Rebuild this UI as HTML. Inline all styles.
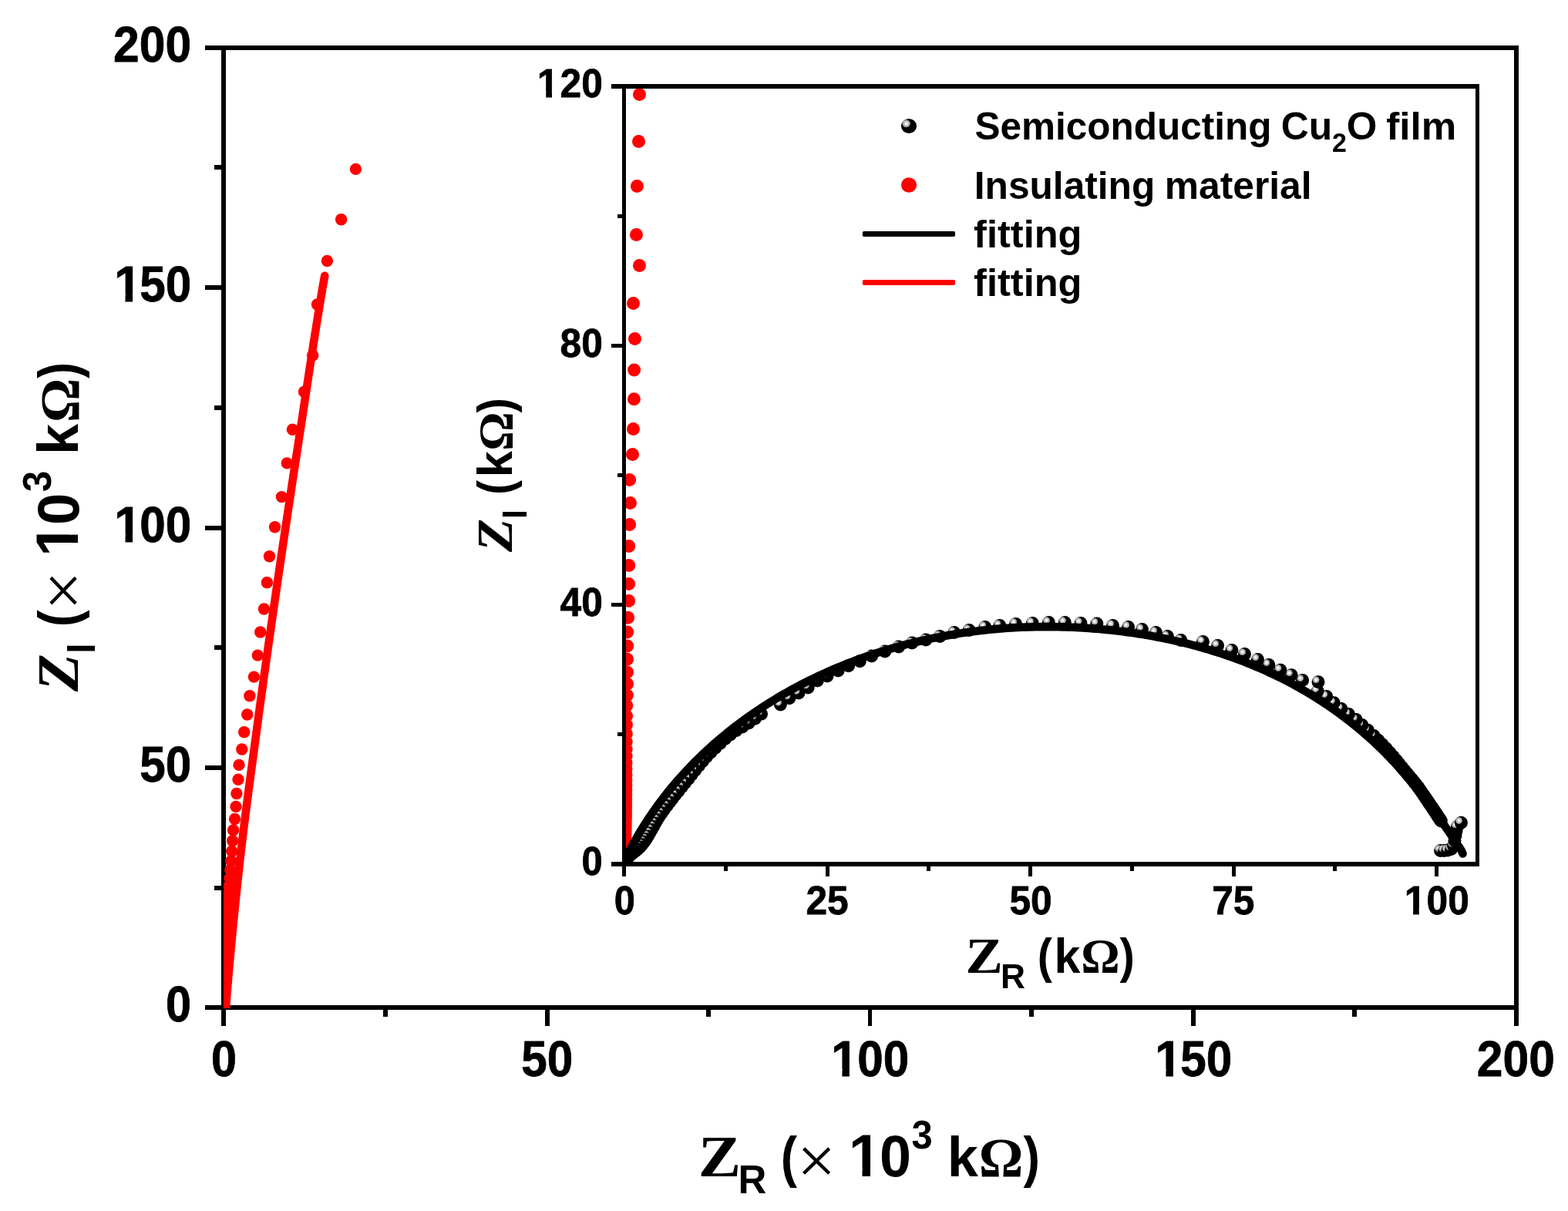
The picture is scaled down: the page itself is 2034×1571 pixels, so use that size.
<!DOCTYPE html>
<html lang="en"><head><meta charset="utf-8"><title>Nyquist plot</title>
<style>html,body{margin:0;padding:0;background:#fff;overflow:hidden}svg{display:block}</style></head>
<body>
<svg width="2034" height="1571" viewBox="0 0 2034 1571">
<defs>
<radialGradient id="sph" cx="0.33" cy="0.335" r="0.275"><stop offset="0" stop-color="#fff"/><stop offset="0.22" stop-color="#fff"/><stop offset="0.42" stop-color="#cfcfcf"/><stop offset="0.72" stop-color="#adadad"/><stop offset="0.9" stop-color="#7a7a7a"/><stop offset="1" stop-color="#000"/></radialGradient>
<clipPath id="cm"><rect x="290" y="62" width="1677" height="1245.6"/></clipPath>
<clipPath id="ci"><rect x="809.5" y="112" width="1107" height="1009"/></clipPath>
</defs>
<rect x="0" y="0" width="2034" height="1571" fill="#fff"/>
<g shape-rendering="crispEdges">
<rect x="287" y="59" width="6" height="1251" fill="#000"/>
<rect x="1964" y="59" width="6" height="1251" fill="#000"/>
<rect x="287" y="59" width="1683" height="6" fill="#000"/>
<rect x="287" y="1304" width="1683" height="6" fill="#000"/>
<rect x="266" y="1304" width="24" height="6" fill="#000"/>
<rect x="278" y="1149" width="12" height="6" fill="#000"/>
<rect x="266" y="993" width="24" height="6" fill="#000"/>
<rect x="278" y="837" width="12" height="6" fill="#000"/>
<rect x="266" y="682" width="24" height="6" fill="#000"/>
<rect x="278" y="526" width="12" height="6" fill="#000"/>
<rect x="266" y="370" width="24" height="6" fill="#000"/>
<rect x="278" y="214" width="12" height="6" fill="#000"/>
<rect x="266" y="59" width="24" height="6" fill="#000"/>
<rect x="287" y="1307" width="6" height="24" fill="#000"/>
<rect x="497" y="1307" width="6" height="12" fill="#000"/>
<rect x="707" y="1307" width="6" height="24" fill="#000"/>
<rect x="916" y="1307" width="6" height="12" fill="#000"/>
<rect x="1126" y="1307" width="5" height="24" fill="#000"/>
<rect x="1335" y="1307" width="6" height="12" fill="#000"/>
<rect x="1545" y="1307" width="6" height="24" fill="#000"/>
<rect x="1754" y="1307" width="6" height="12" fill="#000"/>
<rect x="1964" y="1307" width="6" height="24" fill="#000"/>
</g>
<g clip-path="url(#cm)" fill="#f00">
<circle cx="461.4" cy="219.4" r="7.7"/>
<circle cx="442.6" cy="284.8" r="7.7"/>
<circle cx="424.4" cy="338.5" r="7.7"/>
<circle cx="411.5" cy="395" r="7.7"/>
<circle cx="405.7" cy="461" r="7.7"/>
<circle cx="394.5" cy="508.3" r="7.7"/>
<circle cx="379.4" cy="557.3" r="7.7"/>
<circle cx="372.3" cy="600.9" r="7.7"/>
<circle cx="365.4" cy="644.6" r="7.7"/>
<circle cx="356.5" cy="683.7" r="7.7"/>
<circle cx="349.5" cy="721.7" r="7.7"/>
<circle cx="346.4" cy="755.7" r="7.7"/>
<circle cx="342.5" cy="790" r="7.7"/>
<circle cx="337.7" cy="820" r="7.7"/>
<circle cx="334.3" cy="850.1" r="7.7"/>
<circle cx="329.4" cy="878.1" r="7.7"/>
<circle cx="323.9" cy="902.8" r="7.7"/>
<circle cx="320.7" cy="927" r="7.7"/>
<circle cx="316.7" cy="949.8" r="7.7"/>
<circle cx="313.8" cy="972" r="7.7"/>
<circle cx="310" cy="992.4" r="7.7"/>
<circle cx="309" cy="1011.2" r="7.7"/>
<circle cx="306.9" cy="1029.5" r="7.7"/>
<circle cx="306" cy="1046.4" r="7.7"/>
<circle cx="304.5" cy="1062.5" r="7.7"/>
<circle cx="302.6" cy="1077" r="7.7"/>
<circle cx="301.7" cy="1090.8" r="7.7"/>
<circle cx="300.7" cy="1104.3" r="7.7"/>
<circle cx="299.7" cy="1117" r="7.7"/>
<circle cx="298.82" cy="1128.56" r="7.7"/>
<circle cx="297.99" cy="1139.29" r="7.7"/>
<circle cx="297.23" cy="1149.38" r="7.7"/>
<circle cx="296.55" cy="1158.86" r="7.7"/>
<circle cx="295.93" cy="1167.77" r="7.7"/>
<circle cx="295.37" cy="1176.15" r="7.7"/>
<circle cx="294.86" cy="1184.02" r="7.7"/>
<circle cx="294.4" cy="1191.41" r="7.7"/>
<circle cx="293.99" cy="1198.37" r="7.7"/>
<circle cx="293.61" cy="1204.9" r="7.7"/>
<circle cx="293.27" cy="1211.04" r="7.7"/>
<circle cx="292.96" cy="1216.81" r="7.7"/>
<circle cx="292.68" cy="1222.24" r="7.7"/>
<circle cx="292.43" cy="1227.34" r="7.7"/>
<circle cx="292.2" cy="1232.13" r="7.7"/>
<circle cx="291.99" cy="1236.63" r="7.7"/>
<circle cx="291.8" cy="1240.86" r="7.7"/>
<circle cx="291.63" cy="1244.84" r="7.7"/>
<circle cx="291.48" cy="1248.58" r="7.7"/>
<circle cx="291.34" cy="1252.1" r="7.7"/>
<circle cx="291.21" cy="1255.4" r="7.7"/>
<circle cx="291.1" cy="1258.5" r="7.7"/>
<circle cx="290.99" cy="1261.42" r="7.7"/>
<circle cx="290.9" cy="1264.16" r="7.7"/>
<circle cx="290.81" cy="1266.74" r="7.7"/>
<circle cx="290.74" cy="1269.16" r="7.7"/>
<circle cx="290.67" cy="1271.44" r="7.7"/>
<circle cx="290.6" cy="1273.57" r="7.7"/>
<circle cx="290.55" cy="1275.59" r="7.7"/>
<circle cx="290.5" cy="1277.47" r="7.7"/>
<circle cx="290.45" cy="1279.25" r="7.7"/>
<circle cx="290.41" cy="1280.92" r="7.7"/>
<circle cx="290.37" cy="1282.49" r="7.7"/>
<circle cx="290.33" cy="1283.96" r="7.7"/>
<circle cx="290.3" cy="1285.35" r="7.7"/>
<circle cx="290.27" cy="1286.65" r="7.7"/>
<circle cx="290.25" cy="1287.88" r="7.7"/>
<circle cx="290.22" cy="1289.03" r="7.7"/>
<circle cx="290.2" cy="1290.11" r="7.7"/>
<circle cx="290.18" cy="1291.12" r="7.7"/>
<circle cx="290.17" cy="1292.08" r="7.7"/>
<circle cx="290.15" cy="1292.98" r="7.7"/>
<circle cx="290.14" cy="1293.82" r="7.7"/>
<circle cx="290.12" cy="1294.61" r="7.7"/>
<circle cx="290.11" cy="1295.36" r="7.7"/>
<circle cx="290.1" cy="1296.06" r="7.7"/>
<circle cx="290.09" cy="1296.72" r="7.7"/>
<circle cx="290.08" cy="1297.33" r="7.7"/>
<circle cx="290.08" cy="1297.92" r="7.7"/>
<circle cx="290.07" cy="1298.46" r="7.7"/>
<circle cx="290.06" cy="1298.98" r="7.7"/>
<circle cx="290.06" cy="1299.46" r="7.7"/>
<circle cx="290.05" cy="1299.91" r="7.7"/>
<circle cx="290.05" cy="1300.34" r="7.7"/>
<circle cx="290.04" cy="1300.74" r="7.7"/>
<circle cx="290.04" cy="1301.12" r="7.7"/>
<circle cx="290.03" cy="1301.47" r="7.7"/>
<circle cx="290.03" cy="1301.8" r="7.7"/>
<circle cx="290.03" cy="1302.11" r="7.7"/>
<circle cx="290.03" cy="1302.41" r="7.7"/>
<circle cx="290.02" cy="1302.68" r="7.7"/>
<circle cx="290.02" cy="1302.94" r="7.7"/>
<circle cx="290.02" cy="1303.19" r="7.7"/>
<circle cx="290.02" cy="1303.42" r="7.7"/>
<circle cx="290.02" cy="1303.63" r="7.7"/>
<circle cx="290.01" cy="1303.84" r="7.7"/>
<circle cx="290.01" cy="1304.03" r="7.7"/>
<circle cx="290.01" cy="1304.2" r="7.7"/>
<circle cx="290.01" cy="1304.37" r="7.7"/>
<circle cx="290.01" cy="1304.53" r="7.7"/>
<circle cx="290.01" cy="1304.68" r="7.7"/>
<circle cx="290.01" cy="1304.82" r="7.7"/>
<circle cx="290.01" cy="1304.95" r="7.7"/>
<circle cx="290.01" cy="1305.07" r="7.7"/>
<circle cx="290.01" cy="1305.19" r="7.7"/>
<circle cx="290.01" cy="1305.3" r="7.7"/>
<circle cx="290" cy="1305.4" r="7.7"/>
<circle cx="290" cy="1305.5" r="7.7"/>
<circle cx="290" cy="1305.59" r="7.7"/>
<circle cx="290" cy="1305.67" r="7.7"/>
<circle cx="290" cy="1305.75" r="7.7"/>
<circle cx="290" cy="1305.83" r="7.7"/>
<circle cx="290" cy="1305.9" r="7.7"/>
<circle cx="290" cy="1305.96" r="7.7"/>
<circle cx="290" cy="1306.03" r="7.7"/>
<circle cx="290" cy="1306.08" r="7.7"/>
<circle cx="290" cy="1306.14" r="7.7"/>
<circle cx="290" cy="1306.19" r="7.7"/>
<circle cx="290" cy="1306.24" r="7.7"/>
<circle cx="290" cy="1306.29" r="7.7"/>
<circle cx="290" cy="1306.33" r="7.7"/>
<circle cx="290" cy="1306.37" r="7.7"/>
<circle cx="290" cy="1306.41" r="7.7"/>
<circle cx="290" cy="1306.44" r="7.7"/>
<circle cx="290" cy="1306.48" r="7.7"/>
<circle cx="290" cy="1306.51" r="7.7"/>
<circle cx="290" cy="1306.54" r="7.7"/>
<circle cx="290" cy="1306.57" r="7.7"/>
<circle cx="290" cy="1306.59" r="7.7"/>
<circle cx="290" cy="1306.62" r="7.7"/>
<circle cx="290" cy="1306.64" r="7.7"/>
<circle cx="290" cy="1306.66" r="7.7"/>
<circle cx="290" cy="1306.68" r="7.7"/>
<circle cx="290" cy="1306.7" r="7.7"/>
<path d="M421.2,357.8 L418.32,373.97 L415.61,390.15 L412.95,406.32 L410.34,422.49 L407.79,438.66 L405.26,454.84 L402.77,471.01 L400.31,487.18 L397.85,503.36 L395.4,519.53 L392.96,535.7 L390.5,551.87 L388.03,568.05 L385.56,584.22 L383.09,600.39 L380.63,616.57 L378.18,632.74 L375.73,648.91 L373.3,665.08 L370.87,681.26 L368.46,697.43 L366.06,713.6 L363.68,729.78 L361.32,745.95 L358.97,762.12 L356.63,778.29 L354.29,794.47 L351.97,810.64 L349.66,826.81 L347.36,842.99 L345.08,859.16 L342.81,875.33 L340.56,891.51 L338.33,907.68 L336.12,923.85 L333.94,940.02 L331.77,956.2 L329.6,972.37 L327.43,988.54 L325.25,1004.72 L323.1,1020.89 L320.97,1037.06 L318.87,1053.23 L316.82,1069.41 L314.82,1085.58 L312.89,1101.75 L311.03,1117.93 L309.26,1134.1 L307.53,1150.27 L305.84,1166.44 L304.19,1182.62 L302.58,1198.79 L301.02,1214.96 L299.49,1231.14 L298.02,1247.31 L296.59,1263.48 L295.21,1279.65 L293.89,1295.83 L292.55,1312" fill="none" stroke="#f00" stroke-width="10.6" stroke-linecap="round" stroke-linejoin="round"/>
</g>
<g clip-path="url(#ci)">
<g fill="#f00">
<circle cx="829.5" cy="122.5" r="8.5"/>
<circle cx="828.5" cy="183.5" r="8.5"/>
<circle cx="826.4" cy="241.4" r="8.5"/>
<circle cx="825.5" cy="304.4" r="8.5"/>
<circle cx="829.5" cy="344.4" r="8.5"/>
<circle cx="821.5" cy="393.4" r="8.5"/>
<circle cx="823.5" cy="439.4" r="8.5"/>
<circle cx="822.6" cy="480.1" r="8.5"/>
<circle cx="822.4" cy="517.7" r="8.5"/>
<circle cx="821.5" cy="556.4" r="8.5"/>
<circle cx="820.5" cy="589.4" r="8.5"/>
<circle cx="816.6" cy="622.4" r="8.5"/>
<circle cx="817.5" cy="652.5" r="8.5"/>
<circle cx="816.6" cy="680.6" r="8.5"/>
<circle cx="815.7" cy="708.4" r="8.5"/>
<circle cx="815.7" cy="733.4" r="8.5"/>
<circle cx="815.6" cy="757.4" r="8.5"/>
<circle cx="815.6" cy="779.6" r="8.5"/>
<circle cx="814.6" cy="801.3" r="8.5"/>
<circle cx="813.7" cy="820" r="8.5"/>
<circle cx="813.7" cy="838" r="8.5"/>
<circle cx="813.5" cy="855.2" r="8.5"/>
<circle cx="813.5" cy="871.9" r="8.5"/>
<circle cx="813.5" cy="887.2" r="8.5"/>
<circle cx="813.4" cy="901.9" r="8.5"/>
<circle cx="812.7" cy="915.3" r="8.5"/>
<circle cx="812.6" cy="928.7" r="8.5"/>
<circle cx="812.5" cy="940.2" r="8.5"/>
<circle cx="812.4" cy="951.7" r="8.5"/>
<circle cx="812.24" cy="962.31" r="8.5"/>
<circle cx="812.18" cy="972" r="8.5"/>
<circle cx="812.12" cy="981.09" r="8.5"/>
<circle cx="812.06" cy="989.63" r="8.5"/>
<circle cx="812" cy="997.65" r="8.5"/>
<circle cx="811.94" cy="1005.18" r="8.5"/>
<circle cx="811.88" cy="1012.25" r="8.5"/>
<circle cx="811.82" cy="1018.88" r="8.5"/>
<circle cx="811.76" cy="1025.12" r="8.5"/>
<circle cx="811.7" cy="1030.97" r="8.5"/>
<circle cx="811.64" cy="1036.46" r="8.5"/>
<circle cx="811.58" cy="1041.62" r="8.5"/>
<circle cx="811.52" cy="1046.47" r="8.5"/>
<circle cx="811.46" cy="1051.02" r="8.5"/>
<circle cx="811.4" cy="1055.29" r="8.5"/>
<circle cx="811.34" cy="1059.3" r="8.5"/>
<circle cx="811.28" cy="1063.06" r="8.5"/>
<circle cx="811.22" cy="1066.6" r="8.5"/>
<circle cx="811.16" cy="1069.92" r="8.5"/>
<circle cx="811.1" cy="1073.04" r="8.5"/>
<circle cx="811.04" cy="1075.97" r="8.5"/>
<circle cx="810.98" cy="1078.71" r="8.5"/>
<circle cx="810.92" cy="1081.29" r="8.5"/>
<circle cx="810.86" cy="1083.72" r="8.5"/>
<circle cx="810.8" cy="1085.99" r="8.5"/>
<circle cx="810.74" cy="1088.13" r="8.5"/>
<circle cx="810.68" cy="1090.14" r="8.5"/>
<circle cx="810.62" cy="1092.02" r="8.5"/>
<circle cx="810.56" cy="1093.79" r="8.5"/>
<circle cx="810.5" cy="1095.45" r="8.5"/>
<circle cx="810.44" cy="1097.01" r="8.5"/>
<circle cx="810.38" cy="1098.47" r="8.5"/>
<circle cx="810.32" cy="1099.85" r="8.5"/>
<circle cx="810.26" cy="1101.14" r="8.5"/>
<circle cx="810.2" cy="1102.35" r="8.5"/>
<circle cx="810.14" cy="1103.49" r="8.5"/>
<circle cx="810.08" cy="1104.56" r="8.5"/>
<circle cx="810.02" cy="1105.56" r="8.5"/>
<circle cx="809.96" cy="1106.5" r="8.5"/>
<circle cx="809.9" cy="1107.39" r="8.5"/>
<circle cx="809.84" cy="1108.22" r="8.5"/>
<circle cx="809.78" cy="1109" r="8.5"/>
<circle cx="809.72" cy="1109.73" r="8.5"/>
<circle cx="809.66" cy="1110.42" r="8.5"/>
<circle cx="809.6" cy="1111.07" r="8.5"/>
<circle cx="809.6" cy="1111.67" r="8.5"/>
<circle cx="809.6" cy="1112.24" r="8.5"/>
<circle cx="809.6" cy="1112.78" r="8.5"/>
<circle cx="809.6" cy="1113.28" r="8.5"/>
<circle cx="809.6" cy="1113.75" r="8.5"/>
<circle cx="809.6" cy="1114.19" r="8.5"/>
<circle cx="809.6" cy="1114.61" r="8.5"/>
<circle cx="809.6" cy="1115" r="8.5"/>
<circle cx="809.6" cy="1115.36" r="8.5"/>
<circle cx="809.6" cy="1115.71" r="8.5"/>
<circle cx="809.6" cy="1116.03" r="8.5"/>
<circle cx="809.6" cy="1116.33" r="8.5"/>
<circle cx="809.6" cy="1116.62" r="8.5"/>
<circle cx="809.6" cy="1116.89" r="8.5"/>
<circle cx="809.6" cy="1117.14" r="8.5"/>
<circle cx="809.6" cy="1117.37" r="8.5"/>
<circle cx="809.6" cy="1117.59" r="8.5"/>
<circle cx="809.6" cy="1117.8" r="8.5"/>
<circle cx="809.6" cy="1118" r="8.5"/>
<circle cx="809.6" cy="1118.18" r="8.5"/>
<circle cx="809.6" cy="1118.35" r="8.5"/>
<circle cx="809.6" cy="1118.51" r="8.5"/>
<circle cx="809.6" cy="1118.67" r="8.5"/>
<circle cx="809.6" cy="1118.81" r="8.5"/>
<circle cx="809.6" cy="1118.94" r="8.5"/>
<circle cx="809.6" cy="1119.07" r="8.5"/>
<circle cx="809.6" cy="1119.19" r="8.5"/>
<circle cx="809.6" cy="1119.3" r="8.5"/>
<circle cx="809.6" cy="1119.4" r="8.5"/>
<circle cx="809.6" cy="1119.5" r="8.5"/>
<circle cx="809.6" cy="1119.59" r="8.5"/>
<circle cx="809.6" cy="1119.68" r="8.5"/>
<circle cx="809.6" cy="1119.76" r="8.5"/>
<circle cx="809.6" cy="1119.83" r="8.5"/>
<circle cx="809.6" cy="1119.9" r="8.5"/>
<circle cx="809.6" cy="1119.97" r="8.5"/>
<circle cx="809.6" cy="1120.03" r="8.5"/>
<circle cx="809.6" cy="1120.09" r="8.5"/>
<circle cx="809.6" cy="1120.15" r="8.5"/>
<circle cx="809.6" cy="1120.2" r="8.5"/>
<circle cx="809.6" cy="1120.25" r="8.5"/>
<circle cx="809.6" cy="1120.29" r="8.5"/>
<circle cx="809.6" cy="1120.34" r="8.5"/>
<circle cx="809.6" cy="1120.38" r="8.5"/>
<circle cx="809.6" cy="1120.42" r="8.5"/>
<circle cx="809.6" cy="1120.45" r="8.5"/>
<circle cx="809.6" cy="1120.49" r="8.5"/>
<circle cx="809.6" cy="1120.52" r="8.5"/>
<circle cx="809.6" cy="1120.55" r="8.5"/>
<circle cx="809.6" cy="1120.57" r="8.5"/>
<circle cx="809.6" cy="1120.6" r="8.5"/>
</g>
<g fill="url(#sph)">
<circle cx="1868.6" cy="1103.4" r="8.5"/>
<circle cx="1873.5" cy="1103.4" r="8.5"/>
<circle cx="1878" cy="1103" r="8.5"/>
<circle cx="1882.5" cy="1101.5" r="8.5"/>
<circle cx="1885.5" cy="1097" r="8.5"/>
<circle cx="1887" cy="1090.5" r="8.5"/>
<circle cx="1888" cy="1084" r="8.5"/>
<circle cx="1889" cy="1078" r="8.5"/>
<circle cx="1890.3" cy="1072.5" r="8.5"/>
<circle cx="1895.4" cy="1067.3" r="8.5"/>
<circle cx="1869.34" cy="1064.99" r="8.5"/>
<circle cx="1868.44" cy="1063.62" r="8.5"/>
<circle cx="1867.5" cy="1062.2" r="8.5"/>
<circle cx="1866.52" cy="1060.71" r="8.5"/>
<circle cx="1865.5" cy="1059.17" r="8.5"/>
<circle cx="1864.4" cy="1057.51" r="8.5"/>
<circle cx="1863.26" cy="1055.79" r="8.5"/>
<circle cx="1862.07" cy="1054.02" r="8.5"/>
<circle cx="1860.81" cy="1052.12" r="8.5"/>
<circle cx="1859.5" cy="1050.18" r="8.5"/>
<circle cx="1858.11" cy="1048.11" r="8.5"/>
<circle cx="1856.63" cy="1045.93" r="8.5"/>
<circle cx="1855.11" cy="1043.69" r="8.5"/>
<circle cx="1853.52" cy="1041.33" r="8.5"/>
<circle cx="1851.85" cy="1038.85" r="8.5"/>
<circle cx="1850.11" cy="1036.25" r="8.5"/>
<circle cx="1848.23" cy="1033.48" r="8.5"/>
<circle cx="1846.31" cy="1030.66" r="8.5"/>
<circle cx="1844.24" cy="1027.67" r="8.5"/>
<circle cx="1842.06" cy="1024.6" r="8.5"/>
<circle cx="1839.73" cy="1021.38" r="8.5"/>
<circle cx="1837.25" cy="1018.09" r="8.5"/>
<circle cx="1834.54" cy="1014.62" r="8.5"/>
<circle cx="1831.68" cy="1011.07" r="8.5"/>
<circle cx="1828.65" cy="1007.39" r="8.5"/>
<circle cx="1825.46" cy="1003.56" r="8.5"/>
<circle cx="1822.08" cy="999.52" r="8.5"/>
<circle cx="1818.6" cy="995.29" r="8.5"/>
<circle cx="1814.96" cy="990.82" r="8.5"/>
<circle cx="1811.14" cy="986.12" r="8.5"/>
<circle cx="1807.12" cy="981.23" r="8.5"/>
<circle cx="1802.78" cy="976.14" r="8.5"/>
<circle cx="1798.19" cy="971.01" r="8.5"/>
<circle cx="1793.18" cy="965.67" r="8.5"/>
<circle cx="1787.85" cy="960.23" r="8.5"/>
<circle cx="1782.1" cy="954.6" r="8.5"/>
<circle cx="1774.4" cy="947.3" r="8.5"/>
<circle cx="1766.8" cy="940.5" r="8.5"/>
<circle cx="1759.1" cy="933.5" r="8.5"/>
<circle cx="1749.5" cy="926.4" r="8.5"/>
<circle cx="1739.9" cy="919.4" r="8.5"/>
<circle cx="1730.3" cy="911.7" r="8.5"/>
<circle cx="1720.7" cy="903.4" r="8.5"/>
<circle cx="1709.2" cy="896.4" r="8.5"/>
<circle cx="1710" cy="884.7" r="8.5"/>
<circle cx="1689.6" cy="882.5" r="8.5"/>
<circle cx="1675.2" cy="875.7" r="8.5"/>
<circle cx="1660.9" cy="869.3" r="8.5"/>
<circle cx="1645.8" cy="862.5" r="8.5"/>
<circle cx="1631.5" cy="855.5" r="8.5"/>
<circle cx="1614.5" cy="848.6" r="8.5"/>
<circle cx="1597.9" cy="843.5" r="8.5"/>
<circle cx="1579.6" cy="837.6" r="8.5"/>
<circle cx="1560.4" cy="832.6" r="8.5"/>
<circle cx="1531.8" cy="830.6" r="8.5"/>
<circle cx="1514.5" cy="825.6" r="8.5"/>
<circle cx="1499.4" cy="820.5" r="8.5"/>
<circle cx="1481.5" cy="816.6" r="8.5"/>
<circle cx="1463.6" cy="813.4" r="8.5"/>
<circle cx="1443.5" cy="811.6" r="8.5"/>
<circle cx="1422.8" cy="809" r="8.5"/>
<circle cx="1402" cy="808.4" r="8.5"/>
<circle cx="1381.3" cy="807.5" r="8.5"/>
<circle cx="1360.4" cy="807.5" r="8.5"/>
<circle cx="1339.3" cy="808.4" r="8.5"/>
<circle cx="1317.6" cy="809.4" r="8.5"/>
<circle cx="1296.8" cy="811.6" r="8.5"/>
<circle cx="1277.7" cy="813.5" r="8.5"/>
<circle cx="1257.1" cy="817.6" r="8.5"/>
<circle cx="1237.7" cy="820.5" r="8.5"/>
<circle cx="1219.2" cy="825.6" r="8.5"/>
<circle cx="1201" cy="830" r="8.5"/>
<circle cx="1183.1" cy="834.1" r="8.5"/>
<circle cx="1165.8" cy="839" r="8.5"/>
<circle cx="1147.9" cy="845" r="8.5"/>
<circle cx="1130.7" cy="851" r="8.5"/>
<circle cx="1115.3" cy="857.8" r="8.5"/>
<circle cx="1100.6" cy="863.8" r="8.5"/>
<circle cx="1087.2" cy="869.9" r="8.5"/>
<circle cx="1073.1" cy="877" r="8.5"/>
<circle cx="1060.3" cy="883.1" r="8.5"/>
<circle cx="1048.2" cy="891.9" r="8.5"/>
<circle cx="1036" cy="899.1" r="8.5"/>
<circle cx="1023.9" cy="905.7" r="8.5"/>
<circle cx="1012.4" cy="914" r="8.5"/>
<circle cx="987.47" cy="926.29" r="8.5"/>
<circle cx="979.32" cy="932.31" r="8.5"/>
<circle cx="971.19" cy="937.92" r="8.5"/>
<circle cx="962.97" cy="942.89" r="8.5"/>
<circle cx="954.82" cy="947.62" r="8.5"/>
<circle cx="947.4" cy="953.01" r="8.5"/>
<circle cx="940.54" cy="958.6" r="8.5"/>
<circle cx="934" cy="964.4" r="8.5"/>
<circle cx="927.85" cy="970.22" r="8.5"/>
<circle cx="922.08" cy="975.92" r="8.5"/>
<circle cx="916.5" cy="981.76" r="8.5"/>
<circle cx="911.29" cy="987.63" r="8.5"/>
<circle cx="906.4" cy="993.45" r="8.5"/>
<circle cx="901.68" cy="999.28" r="8.5"/>
<circle cx="897.17" cy="1004.95" r="8.5"/>
<circle cx="892.86" cy="1010.42" r="8.5"/>
<circle cx="888.52" cy="1015.85" r="8.5"/>
<circle cx="884.33" cy="1021.04" r="8.5"/>
<circle cx="880.2" cy="1026.12" r="8.5"/>
<circle cx="876.17" cy="1031.11" r="8.5"/>
<circle cx="872.34" cy="1035.91" r="8.5"/>
<circle cx="868.62" cy="1040.64" r="8.5"/>
<circle cx="865.05" cy="1045.3" r="8.5"/>
<circle cx="861.62" cy="1049.89" r="8.5"/>
<circle cx="858.36" cy="1054.43" r="8.5"/>
<circle cx="855.27" cy="1058.92" r="8.5"/>
<circle cx="852.43" cy="1063.48" r="8.5"/>
<circle cx="849.86" cy="1067.92" r="8.5"/>
<circle cx="847.42" cy="1072.31" r="8.5"/>
<circle cx="845.06" cy="1076.58" r="8.5"/>
<circle cx="842.69" cy="1080.83" r="8.5"/>
<circle cx="840.31" cy="1084.88" r="8.5"/>
<circle cx="837.92" cy="1088.71" r="8.5"/>
<circle cx="835.46" cy="1092.3" r="8.5"/>
<circle cx="832.78" cy="1095.82" r="8.5"/>
<circle cx="830.05" cy="1098.93" r="8.5"/>
<circle cx="827.02" cy="1101.68" r="8.5"/>
<circle cx="823.87" cy="1104.2" r="8.5"/>
<circle cx="820.78" cy="1106.63" r="8.5"/>
<circle cx="817.94" cy="1109.09" r="8.5"/>
<circle cx="815.35" cy="1111.76" r="8.5"/>
<circle cx="813" cy="1114.5" r="8.5"/>
</g>
<path d="M809.8,1121 L810.37,1116.72 L812.26,1112.74 L814.19,1108.79 L816.16,1104.86 L818.17,1100.95 L820.22,1097.06 L822.3,1093.2 L824.43,1089.36 L826.6,1085.54 L828.8,1081.75 L831.04,1077.98 L833.32,1074.24 L835.63,1070.51 L837.98,1066.82 L840.37,1063.14 L842.79,1059.49 L845.25,1055.87 L847.74,1052.27 L850.26,1048.69 L852.82,1045.14 L855.42,1041.61 L858.04,1038.1 L860.7,1034.62 L863.4,1031.17 L866.12,1027.74 L868.88,1024.34 L871.66,1020.96 L874.48,1017.61 L877.33,1014.28 L880.21,1010.98 L883.12,1007.7 L886.06,1004.45 L889.03,1001.22 L892.02,998.02 L895.05,994.85 L898.1,991.7 L901.18,988.58 L904.28,985.49 L907.42,982.42 L910.58,979.38 L913.76,976.36 L916.98,973.37 L920.21,970.41 L923.47,967.48 L926.76,964.57 L930.07,961.69 L933.4,958.84 L936.76,956.01 L940.14,953.21 L943.54,950.44 L946.97,947.7 L950.41,944.99 L953.88,942.3 L957.37,939.64 L960.88,937.01 L964.41,934.41 L967.96,931.84 L971.53,929.29 L975.12,926.77 L978.72,924.28 L982.35,921.82 L986,919.39 L989.66,916.99 L993.34,914.61 L997.04,912.26 L1000.76,909.94 L1004.5,907.65 L1008.25,905.38 L1012.02,903.15 L1015.8,900.94 L1019.61,898.76 L1023.42,896.61 L1027.26,894.49 L1031.11,892.39 L1034.98,890.32 L1038.86,888.28 L1042.75,886.27 L1046.67,884.29 L1050.59,882.33 L1054.53,880.4 L1058.49,878.5 L1062.45,876.63 L1066.43,874.78 L1070.43,872.96 L1074.44,871.17 L1078.46,869.41 L1082.49,867.68 L1086.54,865.97 L1090.59,864.29 L1094.66,862.64 L1098.75,861.01 L1102.84,859.42 L1106.94,857.85 L1111.06,856.31 L1115.18,854.79 L1119.32,853.31 L1123.46,851.85 L1127.62,850.42 L1131.78,849.01 L1135.96,847.64 L1140.14,846.29 L1144.34,844.96 L1148.54,843.67 L1152.75,842.4 L1156.97,841.16 L1161.19,839.95 L1165.42,838.76 L1169.67,837.6 L1173.91,836.47 L1178.17,835.37 L1182.43,834.29 L1186.7,833.24 L1190.98,832.22 L1195.26,831.22 L1199.54,830.26 L1203.84,829.31 L1208.13,828.4 L1212.44,827.51 L1216.74,826.65 L1221.05,825.82 L1225.37,825.01 L1229.69,824.23 L1234.01,823.48 L1238.34,822.75 L1242.67,822.06 L1247.01,821.38 L1251.34,820.74 L1255.68,820.12 L1260.02,819.53 L1264.37,818.96 L1268.71,818.42 L1273.06,817.91 L1277.41,817.43 L1281.76,816.97 L1286.11,816.54 L1290.47,816.13 L1294.82,815.75 L1299.18,815.4 L1303.54,815.07 L1307.9,814.77 L1312.26,814.49 L1316.62,814.24 L1320.99,814.02 L1325.35,813.82 L1329.72,813.64 L1334.09,813.49 L1338.46,813.37 L1342.83,813.27 L1347.2,813.2 L1351.57,813.15 L1355.94,813.13 L1360.32,813.13 L1364.69,813.15 L1369.07,813.2 L1373.44,813.28 L1377.82,813.38 L1382.2,813.5 L1386.57,813.65 L1390.95,813.82 L1395.33,814.02 L1399.71,814.23 L1404.09,814.48 L1408.47,814.75 L1412.84,815.04 L1417.22,815.36 L1421.6,815.7 L1425.97,816.06 L1430.35,816.45 L1434.72,816.87 L1439.09,817.31 L1443.46,817.78 L1447.82,818.27 L1452.19,818.79 L1456.55,819.33 L1460.9,819.9 L1465.26,820.49 L1469.61,821.11 L1473.95,821.76 L1478.3,822.43 L1482.63,823.13 L1486.97,823.85 L1491.29,824.6 L1495.62,825.38 L1499.93,826.19 L1504.25,827.02 L1508.55,827.88 L1512.85,828.76 L1517.15,829.67 L1521.43,830.61 L1525.72,831.58 L1529.99,832.58 L1534.25,833.6 L1538.51,834.65 L1542.76,835.73 L1547.01,836.83 L1551.24,837.96 L1555.47,839.13 L1559.69,840.32 L1563.89,841.54 L1568.09,842.78 L1572.28,844.06 L1576.46,845.36 L1580.63,846.7 L1584.79,848.06 L1588.94,849.45 L1593.08,850.87 L1597.21,852.32 L1601.32,853.8 L1605.43,855.31 L1609.52,856.85 L1613.6,858.42 L1617.67,860.02 L1621.73,861.65 L1625.78,863.31 L1629.81,865 L1633.83,866.72 L1637.83,868.47 L1641.82,870.25 L1645.8,872.06 L1649.76,873.9 L1653.71,875.77 L1657.65,877.68 L1661.57,879.61 L1665.47,881.58 L1669.36,883.58 L1673.23,885.61 L1677.09,887.67 L1680.93,889.76 L1684.76,891.89 L1688.57,894.05 L1692.36,896.24 L1696.14,898.46 L1699.89,900.71 L1703.63,903 L1707.36,905.32 L1711.06,907.67 L1714.75,910.05 L1718.41,912.47 L1722.06,914.91 L1725.69,917.39 L1729.29,919.9 L1732.88,922.44 L1736.44,925.01 L1739.98,927.62 L1743.5,930.25 L1747,932.91 L1750.48,935.6 L1753.92,938.33 L1757.35,941.08 L1760.75,943.86 L1764.13,946.67 L1767.48,949.51 L1770.8,952.38 L1774.1,955.28 L1777.37,958.2 L1780.61,961.16 L1783.83,964.14 L1787.02,967.15 L1790.18,970.18 L1793.31,973.25 L1796.41,976.34 L1799.48,979.46 L1802.52,982.6 L1805.52,985.77 L1808.5,988.97 L1811.46,992.19 L1814.38,995.43 L1817.28,998.7 L1820.16,1001.98 L1823.01,1005.29 L1825.83,1008.62 L1828.64,1011.96 L1831.42,1015.33 L1834.19,1018.71 L1836.93,1022.1 L1839.65,1025.52 L1842.36,1028.94 L1845.05,1032.38 L1847.73,1035.83 L1850.39,1039.29 L1853.04,1042.77 L1855.68,1046.25 L1858.3,1049.74 L1860.91,1053.24 L1863.51,1056.75 L1866.09,1060.27 L1868.66,1063.8 L1871.21,1067.34 L1873.75,1070.89 L1876.27,1074.46 L1878.77,1078.03 L1881.25,1081.62 L1883.72,1085.21 L1886.16,1088.82 L1888.59,1092.45 L1890.99,1096.08 L1893.37,1099.73 L1895.73,1103.4 L1897.5,1107.5" fill="none" stroke="#000" stroke-width="10.6" stroke-linecap="round" stroke-linejoin="round"/>
</g>
<g shape-rendering="crispEdges">
<rect x="807" y="109" width="5" height="1015" fill="#000"/>
<rect x="1914" y="109" width="5" height="1015" fill="#000"/>
<rect x="807" y="109" width="1112" height="6" fill="#000"/>
<rect x="807" y="1118" width="1112" height="6" fill="#000"/>
<rect x="793" y="782" width="16" height="5" fill="#000"/>
<rect x="793" y="446" width="16" height="5" fill="#000"/>
<rect x="793" y="109" width="16" height="6" fill="#000"/>
<rect x="793" y="1118" width="16" height="6" fill="#000"/>
<rect x="801" y="950" width="8" height="5" fill="#000"/>
<rect x="801" y="614" width="8" height="5" fill="#000"/>
<rect x="801" y="278" width="8" height="5" fill="#000"/>
<rect x="807" y="1121" width="5" height="16" fill="#000"/>
<rect x="1071" y="1121" width="5" height="16" fill="#000"/>
<rect x="1334" y="1121" width="5" height="16" fill="#000"/>
<rect x="1598" y="1121" width="5" height="16" fill="#000"/>
<rect x="1861" y="1121" width="5" height="16" fill="#000"/>
<rect x="939" y="1121" width="5" height="9" fill="#000"/>
<rect x="1202" y="1121" width="5" height="9" fill="#000"/>
<rect x="1466" y="1121" width="5" height="9" fill="#000"/>
<rect x="1729" y="1121" width="5" height="9" fill="#000"/>
</g>
<ellipse cx="1179" cy="163.5" rx="10.05" ry="9.6" fill="url(#sph)"/>
<ellipse cx="1179" cy="240" rx="10.05" ry="9.8" fill="#f00"/>
<rect x="1118.8" y="300" width="120.2" height="7" rx="2" fill="#000"/>
<rect x="1118.8" y="363.1" width="120.2" height="6.9" rx="2" fill="#f00"/>
<text transform="translate(1264.41,181) scale(0.9906,1.0)" font-family='"Liberation Sans", sans-serif' font-weight="bold" font-size="50" fill="#000">Semiconducting</text>
<text transform="translate(1661.81,181) scale(0.9959,1.0)" font-family='"Liberation Sans", sans-serif' font-weight="bold" font-size="50" fill="#000">Cu</text>
<text transform="translate(1727.91,196.7) scale(0.9663,1.0000)" font-family='"Liberation Sans", sans-serif' font-weight="bold" font-style="normal" font-size="35.14" fill="#000">2</text>
<text transform="translate(1746.76,181) scale(1.0187,1.0)" font-family='"Liberation Sans", sans-serif' font-weight="bold" font-size="50" fill="#000">O</text>
<text transform="translate(1798.23,181) scale(1.0235,1.0)" font-family='"Liberation Sans", sans-serif' font-weight="bold" font-size="50" fill="#000">film</text>
<text transform="translate(1263.77,257.85) scale(0.9935,1.0)" font-family='"Liberation Sans", sans-serif' font-weight="bold" font-size="50" fill="#000">Insulating</text>
<text transform="translate(1510.66,257.85) scale(0.9962,1.0)" font-family='"Liberation Sans", sans-serif' font-weight="bold" font-size="50" fill="#000">material</text>
<text transform="translate(1263.04,321.1) scale(1.0122,1.0)" font-family='"Liberation Sans", sans-serif' font-weight="bold" font-size="50" fill="#000">fitting</text>
<text transform="translate(1263.04,384.1) scale(1.0122,1.0)" font-family='"Liberation Sans", sans-serif' font-weight="bold" font-size="50" fill="#000">fitting</text>
<text transform="translate(215.12,1324.62) scale(0.9741,1.0601)" font-family='"Liberation Sans", sans-serif' font-weight="bold" font-size="61" fill="#000" stroke="#000" stroke-width="0.74">0</text>
<text transform="translate(181.23,1013.62) scale(0.9882,1.0601)" font-family='"Liberation Sans", sans-serif' font-weight="bold" font-size="61" fill="#000" stroke="#000" stroke-width="0.73">50</text>
<g transform="translate(147.93,702.62) scale(0.9943,1.0000)">
<text font-family='"Liberation Sans", sans-serif' font-weight="bold" font-size="64.67" fill="#000" stroke="#000" stroke-width="0.75">1</text>
<rect x="0.54" y="-9.16" width="14.12" height="11.85" fill="#fff"/>
<rect x="24.3" y="-9.16" width="11.64" height="11.85" fill="#fff"/>
</g>
<text transform="translate(181.23,702.62) scale(0.9881,1.0601)" font-family='"Liberation Sans", sans-serif' font-weight="bold" font-size="61" fill="#000" stroke="#000" stroke-width="0.73">00</text>
<g transform="translate(147.93,390.73) scale(0.9943,1.0000)">
<text font-family='"Liberation Sans", sans-serif' font-weight="bold" font-size="64.67" fill="#000" stroke="#000" stroke-width="0.75">1</text>
<rect x="0.54" y="-9.16" width="14.12" height="11.85" fill="#fff"/>
<rect x="24.3" y="-9.16" width="11.64" height="11.85" fill="#fff"/>
</g>
<text transform="translate(181.23,390.73) scale(0.9882,1.0601)" font-family='"Liberation Sans", sans-serif' font-weight="bold" font-size="61" fill="#000" stroke="#000" stroke-width="0.73">50</text>
<text transform="translate(147.06,79.62) scale(0.9923,1.0601)" font-family='"Liberation Sans", sans-serif' font-weight="bold" font-size="61" fill="#000" stroke="#000" stroke-width="0.73">200</text>
<text transform="translate(274.12,1395.53) scale(0.9741,1.0601)" font-family='"Liberation Sans", sans-serif' font-weight="bold" font-size="61" fill="#000" stroke="#000" stroke-width="0.74">0</text>
<text transform="translate(676.33,1395.53) scale(0.9882,1.0601)" font-family='"Liberation Sans", sans-serif' font-weight="bold" font-size="61" fill="#000" stroke="#000" stroke-width="0.73">50</text>
<g transform="translate(1077.98,1395.53) scale(0.9841,1.0000)">
<text font-family='"Liberation Sans", sans-serif' font-weight="bold" font-size="64.67" fill="#000" stroke="#000" stroke-width="0.76">1</text>
<rect x="0.54" y="-9.16" width="14.12" height="11.86" fill="#fff"/>
<rect x="24.3" y="-9.16" width="11.64" height="11.86" fill="#fff"/>
</g>
<text transform="translate(1112.33,1395.53) scale(0.9881,1.0601)" font-family='"Liberation Sans", sans-serif' font-weight="bold" font-size="61" fill="#000" stroke="#000" stroke-width="0.73">00</text>
<g transform="translate(1497.98,1395.53) scale(0.9841,1.0000)">
<text font-family='"Liberation Sans", sans-serif' font-weight="bold" font-size="64.67" fill="#000" stroke="#000" stroke-width="0.76">1</text>
<rect x="0.54" y="-9.16" width="14.12" height="11.86" fill="#fff"/>
<rect x="24.3" y="-9.16" width="11.64" height="11.86" fill="#fff"/>
</g>
<text transform="translate(1531.13,1395.53) scale(0.9882,1.0601)" font-family='"Liberation Sans", sans-serif' font-weight="bold" font-size="61" fill="#000" stroke="#000" stroke-width="0.73">50</text>
<text transform="translate(1915.86,1395.53) scale(0.9923,1.0601)" font-family='"Liberation Sans", sans-serif' font-weight="bold" font-size="61" fill="#000" stroke="#000" stroke-width="0.73">200</text>
<text transform="translate(754.58,1135.42) scale(0.9687,1.0384)" font-family='"Liberation Sans", sans-serif' font-weight="bold" font-size="50.4" fill="#000" stroke="#000" stroke-width="0.75">0</text>
<text transform="translate(726.56,799.11) scale(0.9859,1.0384)" font-family='"Liberation Sans", sans-serif' font-weight="bold" font-size="50.4" fill="#000" stroke="#000" stroke-width="0.74">40</text>
<text transform="translate(726.57,462.79) scale(0.9857,1.0384)" font-family='"Liberation Sans", sans-serif' font-weight="bold" font-size="50.4" fill="#000" stroke="#000" stroke-width="0.74">80</text>
<g transform="translate(696.73,126.47) scale(0.9759,1.0000)">
<text font-family='"Liberation Sans", sans-serif' font-weight="bold" font-size="52.33" fill="#000" stroke="#000" stroke-width="0.76">1</text>
<rect x="0.29" y="-7.56" width="11.5" height="9.89" fill="#fff"/>
<rect x="19.74" y="-7.56" width="9.42" height="9.89" fill="#fff"/>
</g>
<text transform="translate(726.57,126.47) scale(0.9856,1.0384)" font-family='"Liberation Sans", sans-serif' font-weight="bold" font-size="50.4" fill="#000" stroke="#000" stroke-width="0.74">20</text>
<text transform="translate(796.68,1186.42) scale(0.9687,1.0384)" font-family='"Liberation Sans", sans-serif' font-weight="bold" font-size="50.4" fill="#000" stroke="#000" stroke-width="0.75">0</text>
<text transform="translate(1045.48,1186.42) scale(0.9858,1.0384)" font-family='"Liberation Sans", sans-serif' font-weight="bold" font-size="50.4" fill="#000" stroke="#000" stroke-width="0.74">25</text>
<text transform="translate(1309.48,1186.42) scale(0.9857,1.0384)" font-family='"Liberation Sans", sans-serif' font-weight="bold" font-size="50.4" fill="#000" stroke="#000" stroke-width="0.74">50</text>
<text transform="translate(1572.23,1186.42) scale(0.9857,1.0384)" font-family='"Liberation Sans", sans-serif' font-weight="bold" font-size="50.4" fill="#000" stroke="#000" stroke-width="0.74">75</text>
<g transform="translate(1821.65,1186.42) scale(0.9696,1.0000)">
<text font-family='"Liberation Sans", sans-serif' font-weight="bold" font-size="52.33" fill="#000" stroke="#000" stroke-width="0.76">1</text>
<rect x="0.29" y="-7.56" width="11.5" height="9.9" fill="#fff"/>
<rect x="19.74" y="-7.56" width="9.42" height="9.9" fill="#fff"/>
</g>
<text transform="translate(1850.58,1186.42) scale(0.9856,1.0384)" font-family='"Liberation Sans", sans-serif' font-weight="bold" font-size="50.4" fill="#000" stroke="#000" stroke-width="0.74">00</text>
<text transform="translate(905.84,1526) scale(1.0814,1.0000)" font-family='"Liberation Serif", serif' font-weight="bold" font-style="normal" font-size="76.92" fill="#000">Z</text>
<text transform="translate(957.48,1547.7) scale(0.9790,1.0000)" font-family='"Liberation Sans", sans-serif' font-weight="bold" font-style="normal" font-size="52.12" fill="#000">R</text>
<text transform="translate(1012.8,1525.6) scale(0.8777,1.0000)" font-family='"Liberation Sans", sans-serif' font-weight="bold" font-style="normal" font-size="72.83" fill="#000">(</text>
<text transform="translate(1033.89,1534.56) scale(1.0169,1.0000)" font-family='"Liberation Serif", serif' font-weight="normal" font-style="normal" font-size="87.41" fill="#000">×</text>
<g transform="translate(1100.75,1525.9) scale(0.9924,1.0000)">
<text font-family='"Liberation Sans", sans-serif' font-weight="bold" font-size="76.95" fill="#000">1</text>
<rect x="1.54" y="-10" width="16.35" height="12.31" fill="#fff"/>
<rect x="28.47" y="-10" width="13.85" height="12.31" fill="#fff"/>
</g>
<text transform="translate(1141.05,1526.34) scale(0.9670,1.0000)" font-family='"Liberation Sans", sans-serif' font-weight="bold" font-style="normal" font-size="76.2" fill="#000">0</text>
<text transform="translate(1182.48,1490.49) scale(0.9562,1.0000)" font-family='"Liberation Sans", sans-serif' font-weight="bold" font-style="normal" font-size="51.13" fill="#000">3</text>
<text transform="translate(1228.85,1525.9) scale(0.9890,1.0000)" font-family='"Liberation Sans", sans-serif' font-weight="bold" font-style="normal" font-size="72.97" fill="#000">k</text>
<text transform="translate(1269.76,1525.9) scale(0.9876,1.0000)" font-family='"Liberation Serif", serif' font-weight="bold" font-style="normal" font-size="72.88" fill="#000">Ω</text>
<text transform="translate(1327.58,1525.6) scale(0.8875,1.0000)" font-family='"Liberation Sans", sans-serif' font-weight="bold" font-style="normal" font-size="72.83" fill="#000">)</text>
<text transform="translate(101,897) rotate(-90) scale(1.0378,1.0000)" font-family='"Liberation Serif", serif' font-weight="bold" font-style="italic" font-size="76.92" fill="#000">Z</text>
<text transform="translate(122.9,847.85) rotate(-90) scale(0.8964,1.0000)" font-family='"Liberation Sans", sans-serif' font-weight="bold" font-style="normal" font-size="52.32" fill="#000">I</text>
<text transform="translate(100.88,813.27) rotate(-90) scale(0.8960,1.0000)" font-family='"Liberation Sans", sans-serif' font-weight="bold" font-style="normal" font-size="72.94" fill="#000">(</text>
<text transform="translate(110.6,791.39) rotate(-90) scale(1.0254,1.0000)" font-family='"Liberation Serif", serif' font-weight="normal" font-style="normal" font-size="87.65" fill="#000">×</text>
<g transform="translate(101,721.98) rotate(-90) scale(0.9911,1.0000)">
<text font-family='"Liberation Sans", sans-serif' font-weight="bold" font-size="77.38" fill="#000">1</text>
<rect x="1.55" y="-10.06" width="16.44" height="12.38" fill="#fff"/>
<rect x="28.63" y="-10.06" width="13.93" height="12.38" fill="#fff"/>
</g>
<text transform="translate(101.63,680.97) rotate(-90) scale(0.9664,1.0000)" font-family='"Liberation Sans", sans-serif' font-weight="bold" font-style="normal" font-size="76.9" fill="#000">0</text>
<text transform="translate(65.79,638.33) rotate(-90) scale(0.9615,1.0000)" font-family='"Liberation Sans", sans-serif' font-weight="bold" font-style="normal" font-size="51.27" fill="#000">3</text>
<text transform="translate(100.9,589.97) rotate(-90) scale(0.9881,1.0000)" font-family='"Liberation Sans", sans-serif' font-weight="bold" font-style="normal" font-size="73.24" fill="#000">k</text>
<text transform="translate(102,547.92) rotate(-90) scale(0.9818,1.0000)" font-family='"Liberation Serif", serif' font-weight="bold" font-style="normal" font-size="72.88" fill="#000">Ω</text>
<text transform="translate(100.6,490.81) rotate(-90) scale(0.8581,1.0000)" font-family='"Liberation Sans", sans-serif' font-weight="bold" font-style="normal" font-size="72.83" fill="#000">)</text>
<text transform="translate(1252.47,1261.9) scale(1.1046,1.0000)" font-family='"Liberation Serif", serif' font-weight="bold" font-style="normal" font-size="65.69" fill="#000">Z</text>
<text transform="translate(1298.02,1281.9) scale(0.9906,1.0000)" font-family='"Liberation Sans", sans-serif' font-weight="bold" font-style="normal" font-size="44.67" fill="#000">R</text>
<text transform="translate(1345.83,1261.77) scale(0.9128,1.0000)" font-family='"Liberation Sans", sans-serif' font-weight="bold" font-style="normal" font-size="62.99" fill="#000">(</text>
<text transform="translate(1367.53,1261.9) scale(0.9661,1.0000)" font-family='"Liberation Sans", sans-serif' font-weight="bold" font-style="normal" font-size="63.17" fill="#000">k</text>
<text transform="translate(1402.37,1261.9) scale(0.9893,1.0000)" font-family='"Liberation Serif", serif' font-weight="bold" font-style="normal" font-size="63.64" fill="#000">Ω</text>
<text transform="translate(1452.61,1261.77) scale(0.9241,1.0000)" font-family='"Liberation Sans", sans-serif' font-weight="bold" font-style="normal" font-size="62.99" fill="#000">)</text>
<text transform="translate(664,715.9) rotate(-90) scale(1.0647,1.0000)" font-family='"Liberation Serif", serif' font-weight="bold" font-style="italic" font-size="66.31" fill="#000">Z</text>
<text transform="translate(682.9,672.88) rotate(-90) scale(0.9517,1.0000)" font-family='"Liberation Sans", sans-serif' font-weight="bold" font-style="normal" font-size="44.93" fill="#000">I</text>
<text transform="translate(663.8,641.64) rotate(-90) scale(0.8969,1.0000)" font-family='"Liberation Sans", sans-serif' font-weight="bold" font-style="normal" font-size="63.32" fill="#000">(</text>
<text transform="translate(664,619.2) rotate(-90) scale(0.9663,1.0000)" font-family='"Liberation Sans", sans-serif' font-weight="bold" font-style="normal" font-size="63.59" fill="#000">k</text>
<text transform="translate(664.8,584.83) rotate(-90) scale(0.9846,1.0000)" font-family='"Liberation Serif", serif' font-weight="bold" font-style="normal" font-size="63.94" fill="#000">Ω</text>
<text transform="translate(663.8,535.59) rotate(-90) scale(0.9194,1.0000)" font-family='"Liberation Sans", sans-serif' font-weight="bold" font-style="normal" font-size="63.32" fill="#000">)</text>
</svg>
</body></html>
